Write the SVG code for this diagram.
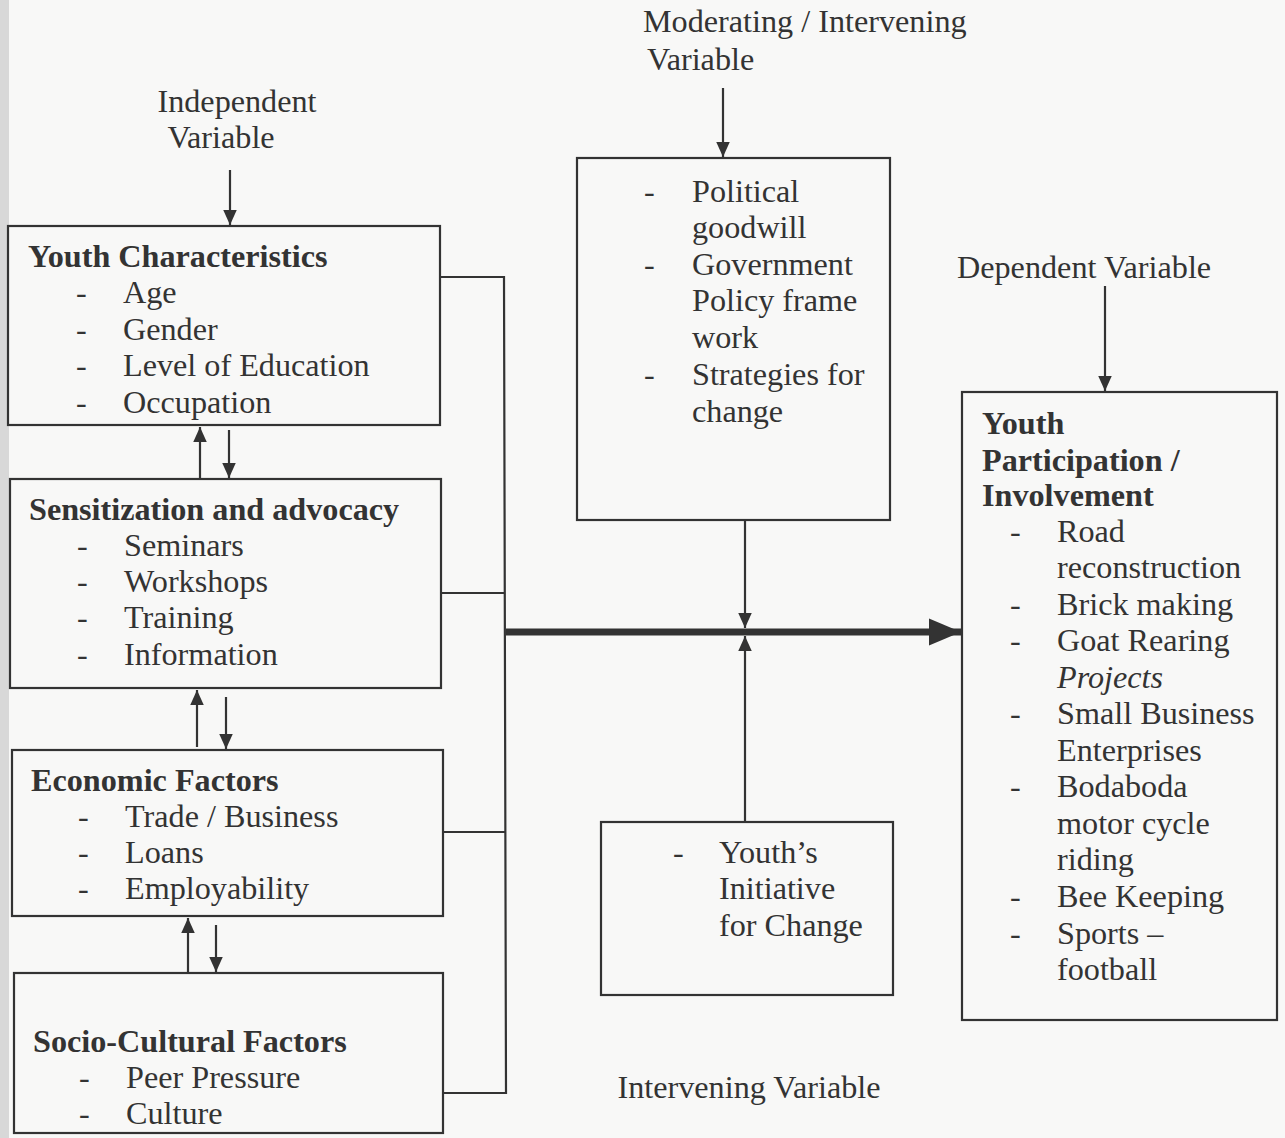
<svg xmlns="http://www.w3.org/2000/svg" width="1285" height="1138" viewBox="0 0 1285 1138">
<defs>
<style>
text{font-family:"Liberation Serif","Times New Roman",serif;font-size:32.2px;fill:#333}
.b{font-weight:bold}
.i{font-style:italic}
.box{fill:none;stroke:#333;stroke-width:2.2}
.ln{fill:none;stroke:#333;stroke-width:2.2}
.thick{fill:none;stroke:#333;stroke-width:7}
</style>
<marker id="ah" viewBox="0 0 10 10" refX="10" refY="5" markerWidth="15" markerHeight="15" markerUnits="userSpaceOnUse" orient="auto">
<path d="M0,0.5 L10,5 L0,9.5 Z" fill="#333"/>
</marker>
<marker id="big" viewBox="0 0 10 10" refX="10" refY="5" markerWidth="32" markerHeight="32" markerUnits="userSpaceOnUse" orient="auto">
<path d="M0,0.8 L10,5 L0,9.2 Z" fill="#333"/>
</marker>
</defs>
<rect width="1285" height="1138" fill="#f8f8f7"/>
<rect width="9" height="1138" fill="#d8d8d8"/>

<g id="label-independent">
<text x="237" y="112" text-anchor="middle">Independent</text>
<text x="221" y="148" text-anchor="middle">Variable</text>
</g>
<g id="label-moderating">
<text x="643" y="32">Moderating / Intervening</text>
<text x="647" y="70">Variable</text>
</g>
<g id="label-dependent">
<text x="957" y="278">Dependent Variable</text>
</g>
<g id="label-intervening">
<text x="749" y="1098" text-anchor="middle">Intervening Variable</text>
</g>

<g id="youth-characteristics">
<rect class="box" x="8" y="226" width="432" height="199"/>
<text class="b" x="28" y="267">Youth Characteristics</text>
<text x="76" y="303">-</text><text x="123" y="303">Age</text>
<text x="76" y="340">-</text><text x="123" y="340">Gender</text>
<text x="76" y="376">-</text><text x="123" y="376">Level of Education</text>
<text x="76" y="413">-</text><text x="123" y="413">Occupation</text>
</g>

<g id="sensitization">
<rect class="box" x="10" y="479" width="431" height="209"/>
<text class="b" x="29" y="520">Sensitization and advocacy</text>
<text x="77" y="556">-</text><text x="124" y="556">Seminars</text>
<text x="77" y="592">-</text><text x="124" y="592">Workshops</text>
<text x="77" y="628">-</text><text x="124" y="628">Training</text>
<text x="77" y="665">-</text><text x="124" y="665">Information</text>
</g>

<g id="economic">
<rect class="box" x="12" y="750" width="431" height="166"/>
<text class="b" x="31" y="791">Economic Factors</text>
<text x="78" y="827">-</text><text x="125" y="827">Trade / Business</text>
<text x="78" y="863">-</text><text x="125" y="863">Loans</text>
<text x="78" y="899">-</text><text x="125" y="899">Employability</text>
</g>

<g id="socio-cultural">
<rect class="box" x="14" y="973" width="429" height="160"/>
<text class="b" x="33" y="1052">Socio-Cultural Factors</text>
<text x="79" y="1088">-</text><text x="126" y="1088">Peer Pressure</text>
<text x="79" y="1124">-</text><text x="126" y="1124">Culture</text>
</g>

<g id="moderating-box">
<rect class="box" x="577" y="158" width="313" height="362"/>
<text x="644" y="202">-</text><text x="692" y="202">Political</text>
<text x="692" y="238">goodwill</text>
<text x="644" y="275">-</text><text x="692" y="275">Government</text>
<text x="692" y="311">Policy frame</text>
<text x="692" y="348">work</text>
<text x="644" y="385">-</text><text x="692" y="385">Strategies for</text>
<text x="692" y="422">change</text>
</g>

<g id="initiative-box">
<rect class="box" x="601" y="822" width="292" height="173"/>
<text x="673" y="863">-</text><text x="719" y="863">Youth’s</text>
<text x="719" y="899">Initiative</text>
<text x="719" y="936">for Change</text>
</g>

<g id="participation-box">
<rect class="box" x="962" y="392" width="315" height="628"/>
<text class="b" x="982" y="434">Youth</text>
<text class="b" x="982" y="471">Participation /</text>
<text class="b" x="982" y="506">Involvement</text>
<text x="1010" y="542">-</text><text x="1057" y="542">Road</text>
<text x="1057" y="578">reconstruction</text>
<text x="1010" y="615">-</text><text x="1057" y="615">Brick making</text>
<text x="1010" y="651">-</text><text x="1057" y="651">Goat Rearing</text>
<text class="i" x="1057" y="688">Projects</text>
<text x="1010" y="724">-</text><text x="1057" y="724">Small Business</text>
<text x="1057" y="761">Enterprises</text>
<text x="1010" y="797">-</text><text x="1057" y="797">Bodaboda</text>
<text x="1057" y="834">motor cycle</text>
<text x="1057" y="870">riding</text>
<text x="1010" y="907">-</text><text x="1057" y="907">Bee Keeping</text>
<text x="1010" y="944">-</text><text x="1057" y="944">Sports –</text>
<text x="1057" y="980">football</text>
</g>

<g id="connectors">
<line class="ln" x1="230" y1="170" x2="230" y2="225" marker-end="url(#ah)"/>
<line class="ln" x1="723" y1="88" x2="723" y2="157" marker-end="url(#ah)"/>
<line class="ln" x1="1105" y1="286" x2="1105" y2="391" marker-end="url(#ah)"/>
<line class="ln" x1="200" y1="478" x2="200" y2="427" marker-end="url(#ah)"/>
<line class="ln" x1="229" y1="430" x2="229" y2="478" marker-end="url(#ah)"/>
<line class="ln" x1="197" y1="747" x2="197" y2="690" marker-end="url(#ah)"/>
<line class="ln" x1="226" y1="697" x2="226" y2="749" marker-end="url(#ah)"/>
<line class="ln" x1="188" y1="972" x2="188" y2="918" marker-end="url(#ah)"/>
<line class="ln" x1="216" y1="925" x2="216" y2="972" marker-end="url(#ah)"/>
<polyline class="ln" points="440,277 504,277 506,1093 443,1093"/>
<line class="ln" x1="441" y1="593" x2="505" y2="593"/>
<line class="ln" x1="443" y1="832" x2="506" y2="832"/>
<line class="thick" x1="506" y1="632" x2="961" y2="632" marker-end="url(#big)"/>
<line class="ln" x1="745" y1="520" x2="745" y2="628" marker-end="url(#ah)"/>
<line class="ln" x1="745" y1="822" x2="745" y2="636" marker-end="url(#ah)"/>
</g>
</svg>
